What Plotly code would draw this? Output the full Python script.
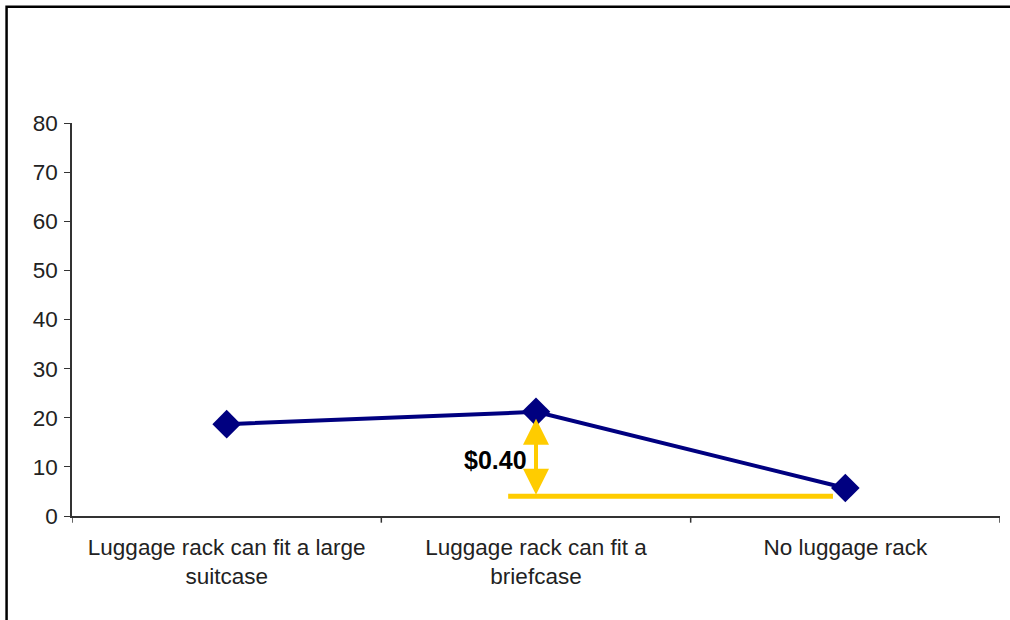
import plotly.graph_objects as go

categories = ["Luggage rack can fit a large<br>suitcase", "Luggage rack can fit a<br>briefcase", "No luggage rack"]
values = [18.7, 21.2, 5.7]
y_ticks = [0, 10, 20, 30, 40, 50, 60, 70, 80]

baseline_value = 4.0
arrow_top_value = 19.8
label_text = "$0.40"
label_value = 11.4
baseline_start = 0.91
baseline_end = 1.96
arrow_cat = 1

FONT = "Liberation Sans, Arial, sans-serif"
NAVY = "#000080"
GOLD = "#FFCC00"
FS = 22.5

fig = go.Figure()
fig.add_trace(go.Scatter(
    x=list(range(len(categories))), y=values, mode="lines+markers",
    line=dict(color=NAVY, width=4),
    marker=dict(symbol="diamond", size=22, color=NAVY),
    showlegend=False, hoverinfo="skip",
))

fig.add_shape(type="line", xref="x", yref="y",
              x0=baseline_start, x1=baseline_end, y0=baseline_value, y1=baseline_value,
              line=dict(color=GOLD, width=5), layer="below")

fig.add_annotation(x=arrow_cat, y=arrow_top_value, ax=arrow_cat, ay=baseline_value,
                   xref="x", yref="y", axref="x", ayref="y", text="",
                   showarrow=True, arrowside="end+start", arrowhead=2,
                   arrowsize=1.3, arrowwidth=4, arrowcolor=GOLD, standoff=0, startstandoff=0)

fig.add_annotation(x=arrow_cat, y=label_value, xref="x", yref="y", text="<b>" + label_text + "</b>",
                   showarrow=False, xanchor="right", xshift=-7,
                   font=dict(family=FONT, size=25, color="black"))

# outer frame
fig.add_shape(type="rect", xref="paper", yref="paper",
              x0=-0.0705, x1=1.05, y0=-0.4, y1=1.296,
              line=dict(color="black", width=2.5), fillcolor="rgba(0,0,0,0)")

fig.update_layout(
    width=1010, height=620,
    margin=dict(l=72, r=10, t=123, b=104),
    paper_bgcolor="white", plot_bgcolor="white",
    font=dict(family=FONT, size=FS, color="#222"),
    xaxis=dict(
        tickmode="array", tickvals=list(range(len(categories))), ticktext=categories,
        range=[-0.5, len(categories) - 0.5],
        showline=True, linecolor="#333", linewidth=1.5,
        ticks="", showgrid=False, zeroline=False, ticklabelstandoff=10,
        tickfont=dict(family=FONT, size=FS, color="#222"),
    ),
    yaxis=dict(
        range=[0, 80], tickmode="array", tickvals=y_ticks,
        showline=True, linecolor="#333", linewidth=1.5,
        ticks="outside", ticklen=6, tickcolor="#333",
        showgrid=False, zeroline=False, ticklabelstandoff=2,
        tickfont=dict(family=FONT, size=FS, color="#222"),
    ),
)

# category boundary ticks on x axis
for b in [-0.5, 0.5, 1.5, 2.5]:
    fig.add_shape(type="line", xref="x", yref="paper", x0=b, x1=b, y0=0, y1=-0.017,
                  line=dict(color="#333", width=1.5))

fig.write_html("out.html")
